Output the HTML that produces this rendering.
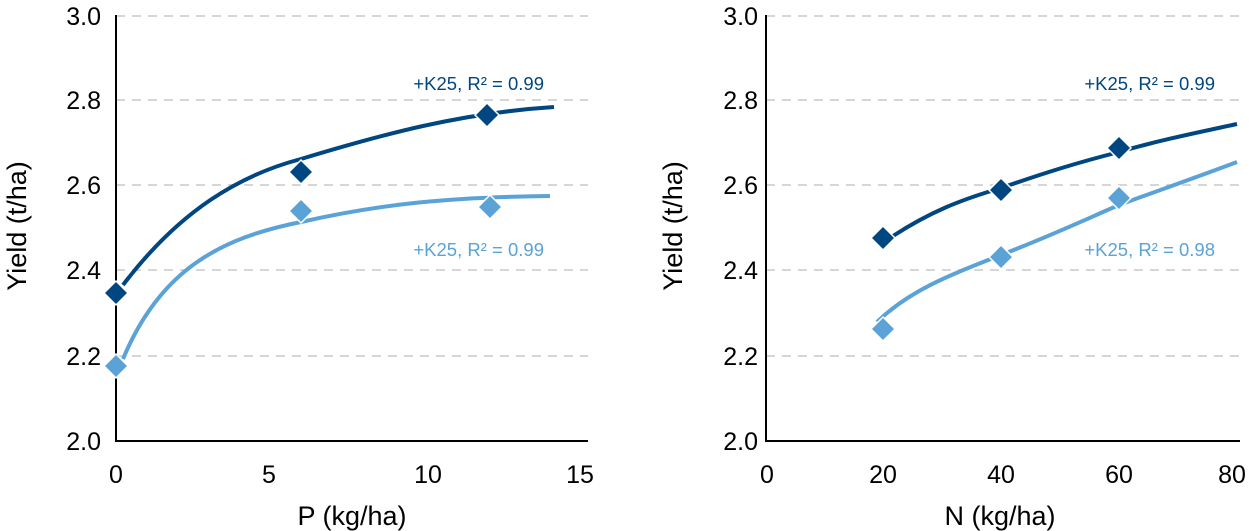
<!DOCTYPE html>
<html><head><meta charset="utf-8"><style>
html,body{margin:0;padding:0;background:#fff;}
svg{display:block;font-family:"Liberation Sans",Arial,sans-serif;}
</style></head><body>
<svg width="1249" height="531" viewBox="0 0 1249 531" xmlns="http://www.w3.org/2000/svg">
<defs>
<g id="d"><path d="M0,-12 L12,0 L0,12 L-12,0 Z" stroke="#fff" stroke-width="1.5"/></g>
</defs>
<!-- LEFT CHART -->
<g stroke="#c8c8c8" stroke-width="1.5" stroke-dasharray="9,7">
<line x1="116" y1="16" x2="588" y2="16"/><line x1="116" y1="100" x2="588" y2="100"/>
<line x1="116" y1="185" x2="588" y2="185"/><line x1="116" y1="270" x2="588" y2="270"/>
<line x1="116" y1="356" x2="588" y2="356"/>
</g>
<g stroke="#000" stroke-width="2" fill="none"><path d="M116,15 L116,441 L588,441"/></g>
<g font-size="25" fill="#000" text-anchor="end">
<text x="101" y="25">3.0</text><text x="101" y="109">2.8</text><text x="101" y="194">2.6</text>
<text x="101" y="279">2.4</text><text x="101" y="365">2.2</text><text x="101" y="450">2.0</text>
</g>
<g font-size="25" fill="#000" text-anchor="middle">
<text x="116" y="483">0</text><text x="269" y="483">5</text><text x="428" y="483">10</text><text x="580" y="483">15</text>
</g>
<text x="352" y="525" font-size="27" text-anchor="middle">P (kg/ha)</text>
<text font-size="27" text-anchor="middle" transform="translate(26,226) rotate(-90)">Yield (t/ha)</text>
<path d="M123,285 C180,210 240,175 301,159 C380,135 460,113 554,107" stroke="#004680" stroke-width="4" fill="none"/>
<path d="M123,359 C160,270 220,238 301,222 C380,204 450,197 550,196" stroke="#5ba3d6" stroke-width="4" fill="none"/>
<g fill="#004680"><use href="#d" x="116" y="293"/><use href="#d" x="301" y="172"/><use href="#d" x="487" y="115"/></g>
<g fill="#5ba3d6"><use href="#d" x="116" y="366"/><use href="#d" x="301" y="211"/><use href="#d" x="490" y="207"/></g>
<text x="544" y="90" font-size="18.5" fill="#004680" text-anchor="end">+K25, R² = 0.99</text>
<text x="544" y="256" font-size="18.5" fill="#5ba3d6" text-anchor="end">+K25, R² = 0.99</text>
<!-- RIGHT CHART -->
<g stroke="#c8c8c8" stroke-width="1.5" stroke-dasharray="9,7">
<line x1="766" y1="16" x2="1240" y2="16"/><line x1="766" y1="100" x2="1240" y2="100"/>
<line x1="766" y1="185" x2="1240" y2="185"/><line x1="766" y1="270" x2="1240" y2="270"/>
<line x1="766" y1="356" x2="1240" y2="356"/>
</g>
<g stroke="#000" stroke-width="2" fill="none"><path d="M766,15 L766,441 L1240,441"/></g>
<g font-size="25" fill="#000" text-anchor="end">
<text x="758" y="25">3.0</text><text x="758" y="109">2.8</text><text x="758" y="194">2.6</text>
<text x="758" y="279">2.4</text><text x="758" y="365">2.2</text><text x="758" y="450">2.0</text>
</g>
<g font-size="25" fill="#000" text-anchor="middle">
<text x="767" y="483">0</text><text x="883" y="483">20</text><text x="1001" y="483">40</text><text x="1119" y="483">60</text><text x="1232" y="483">80</text>
</g>
<text x="1000" y="525" font-size="27" text-anchor="middle">N (kg/ha)</text>
<text font-size="27" text-anchor="middle" transform="translate(682,226) rotate(-90)">Yield (t/ha)</text>
<path d="M893,236 C930,212 960,200 1001,188 C1050,171 1080,162 1119,152 C1160,140 1200,132 1237,124" stroke="#004680" stroke-width="4" fill="none"/>
<path d="M877,322 C910,290 950,275 1001,255 C1050,236 1080,222 1119,205 C1160,190 1200,176 1237,162" stroke="#5ba3d6" stroke-width="4" fill="none"/>
<g fill="#004680"><use href="#d" x="883" y="238"/><use href="#d" x="1001" y="190"/><use href="#d" x="1119" y="148"/></g>
<g fill="#5ba3d6"><use href="#d" x="883" y="329"/><use href="#d" x="1001" y="257"/><use href="#d" x="1119" y="198"/></g>
<text x="1215" y="90" font-size="18.5" fill="#004680" text-anchor="end">+K25, R² = 0.99</text>
<text x="1215" y="256" font-size="18.5" fill="#5ba3d6" text-anchor="end">+K25, R² = 0.98</text>
</svg>
</body></html>
